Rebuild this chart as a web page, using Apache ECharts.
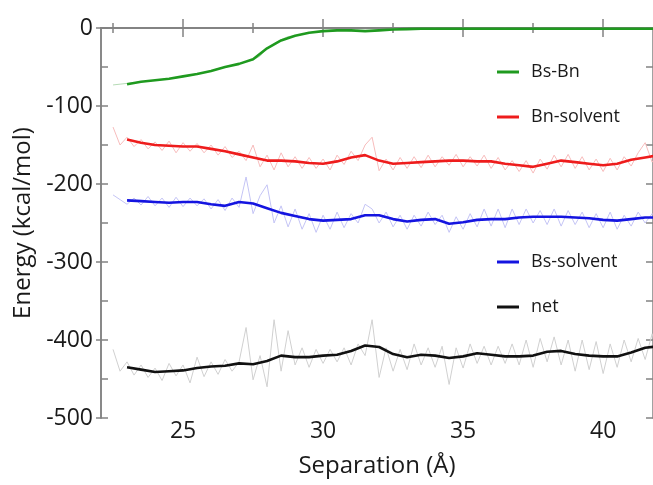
<!DOCTYPE html>
<html>
<head>
<meta charset="utf-8">
<script src="https://cdn.jsdelivr.net/npm/echarts@6/dist/echarts.min.js"></script>
<style>
html,body{margin:0;padding:0;background:#fff;}
#chart{width:653px;height:485px;}
</style>
</head>
<body>
<div id="chart"></div>
<script>
// ---- data ----
const smoothX = [23,23.5,24,24.5,25,25.5,26,26.5,27,27.5,28,28.5,29,29.5,30,30.5,31,31.5,32,32.5,33,33.5,34,34.5,35,35.5,36,36.5,37,37.5,38,38.5,39,39.5,40,40.5,41,41.5,42];
const bsBn = [-72,-69,-67,-65,-62,-59,-55,-50,-46,-40,-26,-16,-10,-6,-4,-3,-3,-4,-3,-2,-1.5,-1,-1,-1,-1,-1,-1,-1,-1,-1,-1,-1,-1,-1,-1,-1,-1,-1,-1];
const bnSolvent = [-143,-147,-150,-151,-152,-152,-155,-158,-162,-166,-170,-170,-171,-173,-174,-171,-166,-163,-170,-174,-173,-172,-171,-170,-170,-171,-171,-174,-176,-178,-174,-170,-172,-174,-176,-174,-169,-166,-163];
const bsSolvent = [-221,-222,-223,-224,-223,-223,-226,-228,-223,-225,-231,-237,-241,-245,-247,-246,-245,-240,-240,-245,-248,-246,-245,-251,-249,-246,-245,-245,-243,-242,-242,-242,-243,-244,-246,-247,-245,-243,-243];
const net = [-435,-438,-441,-440,-439,-436,-434,-433,-430,-431,-427,-420,-422,-422,-420,-419,-414,-407,-409,-418,-422,-419,-420,-423,-421,-417,-419,-421,-421,-420,-415,-414,-418,-420,-421,-421,-416,-410,-408];

const rawX = [22.5,22.75,23,23.25,23.5,23.75,24,24.25,24.5,24.75,25,25.25,25.5,25.75,26,26.25,26.5,26.75,27,27.25,27.5,27.75,28,28.25,28.5,28.75,29,29.25,29.5,29.75,30,30.25,30.5,30.75,31,31.25,31.5,31.75,32,32.25,32.5,32.75,33,33.25,33.5,33.75,34,34.25,34.5,34.75,35,35.25,35.5,35.75,36,36.25,36.5,36.75,37,37.25,37.5,37.75,38,38.25,38.5,38.75,39,39.25,39.5,39.75,40,40.25,40.5,40.75,41,41.25,41.5,41.75,42];
const bsBnRaw = [-73,-72,-71,-70,-69,-68,-67,-66,-65,-64,-62,-61,-59,-57,-55,-52,-50,-48,-46,-43,-41,-36,-26,-20,-15,-11,-10,-8,-6,-5,-4,-3,-2,-3,-4,-3,-4,-3,-2,-2,-1.5,-1,-0.5,-1,-1.5,-1,-0.5,-1,-1,-1.5,-1,-0.5,-1,-1,-1.5,-1,-0.5,-1,-1,-1.5,-1,-0.5,-1,-1,-1.5,-1,-0.5,-1,-1,-1.5,-1,-0.5,-1,-1,-1.5,-1,-0.5,-1,-1];
const bnSolventRaw = [-127,-150,-140,-152,-143,-155,-146,-157,-145,-160,-147,-158,-148,-160,-150,-163,-152,-166,-158,-170,-150,-178,-163,-182,-160,-178,-165,-180,-166,-180,-168,-182,-163,-175,-158,-170,-150,-140,-183,-168,-182,-166,-180,-165,-179,-163,-178,-165,-176,-162,-178,-165,-177,-163,-180,-166,-182,-170,-184,-170,-186,-168,-181,-163,-178,-162,-180,-165,-182,-168,-184,-167,-182,-165,-177,-160,-147,-172,-160];
const bsSolventRaw = [-214,-220,-226,-218,-227,-216,-228,-218,-230,-217,-229,-218,-228,-219,-232,-220,-234,-218,-230,-191,-238,-215,-201,-250,-228,-255,-232,-258,-238,-262,-240,-258,-236,-256,-238,-250,-226,-232,-250,-236,-255,-240,-258,-240,-254,-236,-252,-240,-262,-242,-258,-238,-255,-232,-254,-232,-256,-232,-252,-232,-250,-234,-252,-232,-254,-234,-252,-236,-256,-238,-256,-236,-258,-240,-254,-236,-250,-238,-248];
const netRaw = [-412,-440,-428,-445,-432,-448,-436,-452,-430,-446,-432,-455,-422,-447,-428,-444,-425,-440,-428,-384,-451,-420,-460,-374,-440,-388,-432,-410,-435,-412,-430,-412,-428,-410,-432,-405,-420,-374,-448,-410,-440,-412,-438,-405,-432,-410,-435,-408,-457,-410,-436,-405,-430,-408,-432,-408,-430,-405,-432,-400,-435,-398,-428,-396,-432,-400,-440,-400,-438,-402,-443,-405,-435,-400,-428,-398,-425,-392,-430];

const xLabelTicks = [25,30,35,40];
const xMinorTicks = [22.5,27.5,32.5,37.5];
const seriesNames = ['Bs-Bn','Bn-solvent','Bs-solvent','net'];

// ---- chart ----
const FONT = 'Open Sans';
const AXIS_COLOR = '#828282';
const colors = ['#1f9a1f','#ee1c1c','#1414e0','#111111'];
const rawColors = ['#b5dbb5','#f7bcbc','#c4c4f5','#d0d0d0'];
const smooth = [bsBn, bnSolvent, bsSolvent, net];
const raws = [bsBnRaw, bnSolventRaw, bsSolventRaw, netRaw];

const zip = (xs, ys) => xs.map((x, i) => [x, ys[i]]);

const XMIN = 22.07, XMAX = 41.78;

function xAxisDef(position, ticks, len, extra) {
  return Object.assign({
    type: 'value', gridIndex: 0, position: position, min: XMIN, max: XMAX,
    splitLine: {show: false},
    axisLine: {show: true, lineStyle: {color: AXIS_COLOR, width: 1.5}},
    axisTick: {show: true, inside: true, length: len, customValues: ticks, lineStyle: {color: AXIS_COLOR, width: 1.5}},
    axisLabel: {show: false}
  }, extra || {});
}

function yAxisDef(position, interval, inside, len, extra) {
  return Object.assign({
    type: 'value', position: position, min: -500, max: 0, interval: interval,
    splitLine: {show: false},
    axisLine: {show: true, lineStyle: {color: AXIS_COLOR, width: 1.5}},
    axisTick: {show: true, inside: inside, length: len, lineStyle: {color: AXIS_COLOR, width: 1.5}},
    axisLabel: {show: false}
  }, extra || {});
}

const option = {
  animation: false,
  backgroundColor: '#ffffff',
  grid: {left: 101, right: 0, top: 28, bottom: 67, containLabel: false},
  xAxis: [
    xAxisDef('bottom', xLabelTicks, 9, {
      axisLabel: {show: true, customValues: xLabelTicks, margin: 2, fontSize: 23, fontFamily: FONT, color: '#1a1a1a'},
      name: 'Separation (Å)', nameLocation: 'middle', nameGap: 36,
      nameTextStyle: {fontSize: 24, fontFamily: FONT, color: '#1a1a1a'}
    }),
    xAxisDef('bottom', xMinorTicks, 5),
    xAxisDef('top', xLabelTicks, 9),
    xAxisDef('top', xMinorTicks, 5)
  ],
  yAxis: [
    yAxisDef('left', 50, true, 7, {
      axisLabel: {show: true, margin: 8, fontSize: 23, fontFamily: FONT, color: '#1a1a1a',
        formatter: v => (v % 100 === 0 ? String(v) : '')},
      name: 'Energy (kcal/mol)', nameLocation: 'middle', nameGap: 64,
      nameTextStyle: {fontSize: 24, fontFamily: FONT, color: '#1a1a1a'}
    }),
    yAxisDef('left', 100, false, 5),
    yAxisDef('right', 50, true, 7)
  ],
  legend: [63, 108, 253, 298].map((top, i) => ({
    data: [seriesNames[i]], left: 497, top: top, padding: 0,
    itemWidth: 22, itemHeight: 3, icon: 'rect', selectedMode: false,
    textStyle: {fontSize: 18, fontFamily: FONT, color: '#1a1a1a', padding: [0, 0, 0, 7]}
  })),
  series: [
    ...raws.map((r, i) => ({
      type: 'line', name: seriesNames[i] + ' raw', data: zip(rawX, r),
      showSymbol: false, symbol: 'none', color: rawColors[i],
      lineStyle: {width: 1, color: rawColors[i]}, z: 2, silent: true
    })),
    ...smooth.map((s, i) => ({
      type: 'line', name: seriesNames[i], data: zip(smoothX, s),
      showSymbol: false, symbol: 'none', color: colors[i],
      lineStyle: {width: 2.6, color: colors[i]}, z: 3
    }))
  ]
};

const chart = echarts.init(document.getElementById('chart'), null, {renderer: 'canvas'});
chart.setOption(option);
</script>
</body>
</html>
